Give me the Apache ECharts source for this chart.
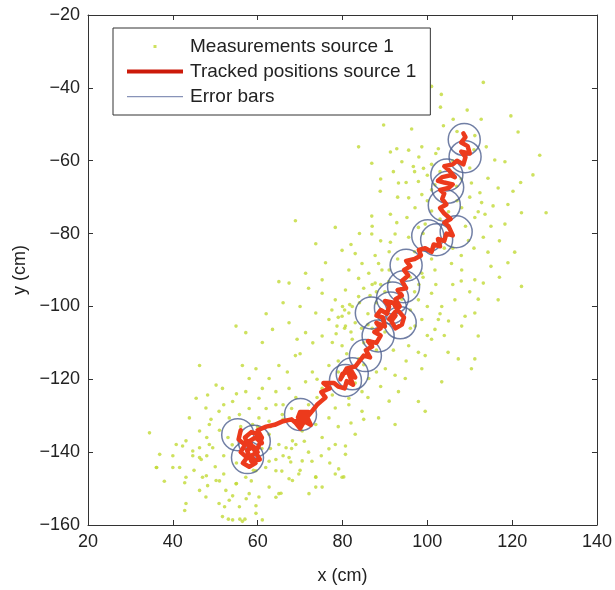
<!DOCTYPE html>
<html>
<head>
<meta charset="utf-8">
<script src="https://cdn.jsdelivr.net/npm/echarts@6/dist/echarts.min.js"></script>
<style>
  html, body { margin: 0; padding: 0; background: #fff; }
  #chart { width: 615px; height: 590px; }
</style>
</head>
<body>
<div id="chart"></div>
<script>
var measurements = [
  [113.2,-38.5],[103.3,-41.8],[101.0,-39.6],[103.1,-45.3],[109.4,-46.1],[119.7,-47.7],[106.1,-48.6],[112.7,-48.6],
  [121.4,-52.1],[96.3,-51.3],[103.8,-50.4],[89.7,-50.2],
  [83.8,-56.2],[91.3,-57.6],[92.8,-56.7],[95.6,-57.1],[98.7,-56.2],[102.6,-56.7],[111.2,-53.1],[113.9,-56.2],
  [115.9,-59.8],[118.3,-60.3],[126.5,-58.5],[124.9,-63.9],[86.9,-60.7],[94.0,-60.3],[96.7,-61.6],[99.1,-62.1],
  [97.9,-65.7],[101.8,-66.6],[88.9,-68.4],[93.2,-66.1],[98.7,-69.3],[106.9,-67.0],[110.4,-66.1],[114.3,-64.8],
  [116.7,-67.5],[120.2,-68.4],[112.4,-68.8],[95.6,-70.2],
  [78.3,-78.3],[68.9,-76.5],[86.9,-75.2],[91.3,-74.7],[92.8,-77.0],[95.2,-75.6],[97.1,-72.9],[101.0,-73.8],
  [99.5,-77.4],[108.1,-72.9],[112.8,-71.5],[115.5,-72.4],[111.2,-75.6],[113.6,-74.7],[118.3,-77.4],[122.2,-74.3],
  [128.0,-74.3],[86.9,-80.1],[92.4,-80.1],[95.6,-81.0],[97.9,-78.3],[109.7,-81.9],[113.2,-81.0],[114.3,-85.1],
  [120.6,-85.1],[73.7,-82.8],[79.9,-84.6],[83.0,-85.5],[87.7,-86.0],[91.3,-82.4],[88.5,-88.2],
  [65.0,-93.2],[67.4,-93.6],[71.3,-90.9],[75.2,-92.7],[81.5,-90.0],[84.6,-88.2],[83.8,-92.3],[86.2,-90.9],
  [89.3,-90.0],[87.7,-93.6],[90.9,-93.2],[98.7,-90.9],[101.8,-90.0],[105.7,-88.2],[108.1,-90.0],[111.2,-92.7],
  [113.2,-93.6],[122.2,-94.5],[116.7,-98.2],[78.3,-98.2],[80.7,-95.5],[82.3,-100.0],[75.2,-96.4],[73.7,-101.8],
  [67.4,-104.5],[63.5,-106.3],[76.8,-103.6],[79.9,-102.7],[81.5,-101.8],[83.0,-104.5],[80.7,-105.4],[78.7,-105.4],
  [83.8,-97.3],[97.9,-98.2],[101.0,-96.4],[103.4,-100.0],[106.5,-98.2],[108.9,-102.7],[111.2,-101.8],[102.6,-103.6],
  [98.7,-103.6],[97.1,-105.4],[101.8,-106.3],[108.1,-105.4],[112.0,-108.1],[54.9,-105.4],[57.2,-107.2],[61.1,-109.9],
  [69.3,-109.0],[71.3,-107.2],[75.2,-108.1],[77.6,-109.9],[79.9,-110.8],[82.3,-109.0],[68.9,-113.5],[65.0,-116.2],
  [62.7,-119.8],[59.6,-117.1],[56.4,-116.2],[46.3,-116.2],[72.9,-118.0],[76.8,-116.2],[83.8,-114.4],[95.6,-110.8],
  [97.9,-112.6],[99.5,-113.5],[101.0,-109.0],[104.9,-112.6],[107.3,-114.4],[111.2,-114.4],[110.4,-117.1],[98.7,-117.1],
  [94.8,-119.8],[92.4,-118.9],[90.1,-117.1],[86.2,-119.8],[84.6,-123.4],[81.5,-125.2],[77.6,-124.3],[75.2,-122.5],
  [71.3,-120.7],[67.4,-122.5],[64.3,-123.4],[61.1,-122.5],[58.0,-119.8],[50.2,-121.6],[51.7,-122.5],[48.2,-124.3],
  [45.5,-125.2],[103.4,-120.7],[93.2,-123.4],
  [43.9,-130.6],[47.8,-127.9],[50.9,-128.8],[54.1,-126.1],[57.2,-123.4],[60.3,-125.2],[64.3,-127.0],[65.8,-129.7],
  [62.7,-131.5],[60.3,-130.6],[58.8,-132.4],[55.7,-129.7],[53.3,-130.6],[48.6,-132.4],[46.3,-134.2],[43.1,-136.9],
  [40.8,-137.9],[34.5,-134.7],[36.9,-140.6],[40.0,-144.2],[46.3,-141.5],[44.7,-139.7],[48.6,-137.9],[62.7,-135.1],
  [65.0,-137.9],[68.2,-136.9],[70.5,-134.2],[73.7,-132.4],[76.8,-130.6],[78.3,-127.9],[81.5,-127.0],[75.2,-136.0],
  [78.3,-137.9],[80.7,-140.6],[83.0,-135.1],[84.6,-128.8],[88.5,-130.6],[92.4,-132.4],[97.9,-126.1],[99.5,-128.8],
  [67.4,-141.5],[70.5,-142.4],[64.3,-145.1],[73.7,-146.9],[78.3,-146.0],[79.9,-146.9],
  [36.1,-144.2],[43.1,-146.9],[47.0,-146.9],[50.2,-147.8],[52.5,-150.5],[54.9,-148.7],[57.2,-146.9],[59.6,-145.1],
  [61.9,-144.2],[47.8,-152.3],[50.9,-154.1],[53.3,-153.2],[55.7,-155.0],[58.0,-151.4],[60.3,-152.3],[62.7,-149.6],
  [65.0,-151.4],[68.2,-147.8],[43.1,-154.1],[51.7,-157.7],[54.1,-158.6],[56.4,-159.0],[59.6,-156.8],[61.1,-158.6],
  [72.1,-151.4],[75.2,-149.6],[46.3,-150.5],
  [36.2,-144.2],[41.6,-144.2],[42.8,-148.4],[48.2,-149.2],[47.9,-146.5],[51.0,-147.9],[55.0,-148.6],[58.5,-147.9],
  [54.1,-152.0],[57.3,-152.8],[52.2,-155.0],[59.6,-154.7],[42.8,-156.0],[64.3,-152.4],[65.5,-151.3],[67.4,-147.3],
  [69.7,-146.0],[73.7,-146.8],[73.7,-149.6],[79.1,-144.6],[80.3,-146.8],[65.7,-145.2],[67.8,-142.7],[72.8,-142.5],
  [76.8,-139.1],[80.7,-138.3],[42.3,-138.3],[46.3,-138.8],[44.7,-141.0],[46.7,-142.0],[49.4,-138.8],[53.1,-158.4],
  [55.8,-158.4],[57.0,-158.4],[62.7,-142.5],[64.3,-142.0],[66.7,-138.8],[69.0,-137.9],
  [107,-52],[111,-57],[106,-60],[103,-63],[108,-65],[101,-68],[107,-71],[103,-76],[109,-78],[99,-80],
  [104,-84],[97,-85],[101,-87],[93,-87],[96,-92],[90,-96],[94,-98],[88,-99],[92,-103],[96,-101],
  [86,-105],[90,-107],[85,-110],[88,-112],[81,-113],[85,-116],[79,-118],[83,-121],[77,-121],[74,-125],
  [72,-127],[68,-128],[71,-132],[66,-131],[63,-133],[60,-133],[56,-133],[54,-138],[61,-139],[55,-143],
  [59,-145],[52,-141],[57,-137],[79,-115],[87,-94],[98,-94],[105,-74],[110,-62],[100,-71],[91,-90],
  [79,-103],[80.5,-101],[81.7,-99.5],[80.5,-106],[78.5,-107.5],[82,-107],[77.5,-101],[80,-100],
  [85,-95],[86.5,-97],[84,-99],[88,-96],[89,-94],[86,-102],[84.5,-106],[87,-106],
  [97,-96],[99,-92],[102,-94],[100,-100],[103,-102],[105,-104],[100,-108],[104,-108],
  [108,-93],[110,-96],[106,-94],[112,-98],[115,-89],[117,-92],[119,-88],
  [93,-70],[95,-66],[97,-63],[92,-63],[89,-65],[98,-59],[101,-61],[100,-64],[102,-58],
  [110,-70],[112,-74],[115,-78],[117,-82],[111,-84],[108,-86],[106,-84],[119,-72],[122,-66],
  [87,-78],[89,-82],[84,-80],[82,-83],[91,-85],[76,-88],[72,-95],[70,-100],[66,-99],[62,-102],
  [73,-110],[70,-113],[67,-118],[74,-120],[69,-125],[66,-127],[62,-128],[58,-128],[55,-124],[52,-127],
  [49,-131],[51,-134],[48,-136],[53,-136],[50,-144],[48,-141],[52,-146],[45,-145],[40,-141],[38,-148],
  [63,-139],[66,-141],[68,-139],[71,-137],[72,-140],[75,-141],[77,-143],[70,-145],[86,-125],[89,-122],
  [95,-115],[92,-112],[96,-106],[88,-118],[91,-126],[85,-131],[82,-132],[79,-133]
];

// tracked positions, bottom-left start to top-right end
var tracked = [
  [56,-134],[55.5,-136.5],[57,-138],[56,-140],[57.5,-141.5],[56.5,-143],[58,-144],[59.5,-143],[58.5,-141],[60,-140],
  [59,-138.5],[57.5,-139.5],[58.5,-142.5],[60.5,-142],[59.5,-140],[58,-137],[59.5,-136],[61,-137.5],[60,-135],[58.5,-134.5],
  [57,-136],[58,-138.5],[60,-139],[61,-136],[60,-134],
  [62,-133],[64,-132.5],[66,-131.5],[68,-131],
  [69,-132],[70,-133.5],[71,-131.5],[72.5,-132.5],[71.5,-130],[69.5,-130.5],[70,-129],[72,-129],[71,-131],[69,-131.5],[70.5,-132],
  [73,-128.5],[74,-127],[75,-126],[76,-125],[75,-123.5],[77,-122.5],[75.5,-121],[78,-121],
  [79,-122],[80.5,-122.5],[81,-120.5],[82.5,-121.5],[81.5,-118.5],[83,-119.5],[82,-117.5],[80,-118.5],[79.5,-120],[81,-117],[83,-116.5],
  [84,-115],[85,-113.5],[86.5,-114],[85.5,-112],[87,-111],[86,-109.5],[88,-110],[89,-108],[87.5,-107],[89,-106],
  [88,-104.5],[90,-105.5],[89.5,-103],[88,-102.5],[89,-101],[90.5,-102],[91,-100],[90,-98.5],[92,-99],[93,-101],
  [94.5,-103],[94,-105],[92.5,-106],[91.5,-104],[92.5,-102.5],[91,-103.5],[93.5,-100],[92.5,-98],[94,-97],[93,-95.5],
  [95,-95],[94,-93],[95.5,-91.5],[94.5,-90],[96,-89],[95,-87.5],[97,-87],[98.5,-86],[98,-84.5],[99.5,-84],
  [101,-85],[101.5,-83],[103,-83.5],[102.5,-81.5],[104,-82],[104.5,-80],[106,-80.5],[105,-78],[104,-77],[105.5,-76],
  [104,-74.5],[103,-73],[104.5,-72],[103.5,-70.5],[104,-69],[103,-68],[105,-67.5],[106,-66.5],[104,-66],[102.5,-65.5],
  [103.5,-64.5],[105.5,-64],[106.5,-64.5],[105,-62.5],[104,-61.5],[106,-61],[107,-60],[108.5,-61],[109,-59],[108,-57.5],
  [110,-58],[109.5,-56],[108,-55],[109,-53.5],[108.5,-52.5]
];

// error circle centres
var errorCentres = [
  [108.7,-54.2],[108.9,-58.9],[104.6,-63.9],[104.8,-67.3],[104.0,-72.2],[100.1,-80.6],[102.2,-81.7],[106.8,-79.5],
  [95.0,-88.7],[94.4,-94.6],[91.8,-97.7],[86.8,-101.8],[91.3,-100.4],[93.6,-104.5],[88.4,-108.1],[85.4,-113.5],
  [82.3,-118.5],[80.7,-120.3],[70.1,-129.7],[55.3,-135.2],[59.2,-137.0],[57.6,-141.5]
];

var xTicks = [20, 40, 60, 80, 100, 120, 140];
var yTicks = [-160, -140, -120, -100, -80, -60, -40, -20];

var dotColor = '#c2d936';
var trackColor = '#ec3a1c';
var circleColor = '#4d5f8e';
var fontFam = '"Liberation Sans", Arial, sans-serif';

var chart = echarts.init(document.getElementById('chart'));

function minus(v) { return String(v).replace('-', '\u2212'); }

var boxAxis = {
  axisLine: { show: true, lineStyle: { color: '#333', width: 1 } },
  axisTick: { show: true, inside: true, length: 5, lineStyle: { color: '#333' } },
  splitLine: { show: false }
};

var option = {
  animation: false,
  backgroundColor: '#fff',
  grid: { left: 88, right: 16, top: 15, bottom: 59 },
  xAxis: [
    Object.assign({
      type: 'value', min: xTicks[0], max: xTicks[xTicks.length - 1], interval: 20,
      name: 'x (cm)', nameLocation: 'middle', nameGap: 42,
      nameTextStyle: { fontSize: 18, color: '#222', fontFamily: fontFam },
      axisLabel: { fontSize: 18, color: '#222', fontFamily: fontFam, margin: 8 }
    }, boxAxis),
    Object.assign({
      type: 'value', position: 'top', min: xTicks[0], max: xTicks[xTicks.length - 1], interval: 20,
      axisLabel: { show: false }
    }, boxAxis)
  ],
  yAxis: [
    Object.assign({
      type: 'value', min: yTicks[0], max: yTicks[yTicks.length - 1], interval: 20,
      name: 'y (cm)', nameLocation: 'middle', nameGap: 56, nameRotate: 90,
      nameTextStyle: { fontSize: 18, color: '#222', fontFamily: fontFam },
      axisLabel: { fontSize: 18, color: '#222', fontFamily: fontFam, margin: 8, formatter: minus }
    }, boxAxis),
    Object.assign({
      type: 'value', position: 'right', min: yTicks[0], max: yTicks[yTicks.length - 1], interval: 20,
      axisLabel: { show: false }
    }, boxAxis)
  ],
  legend: {
    orient: 'vertical',
    left: 113, top: 28,
    padding: [9, 14, 9, 12],
    itemGap: 6,
    itemWidth: 60, itemHeight: 10,
    backgroundColor: '#fff',
    borderColor: '#333', borderWidth: 1,
    textStyle: { fontSize: 19, color: '#222', fontFamily: fontFam },
    data: [
      { name: 'Measurements source 1', icon: 'path://M0,0M60,10M28.5,3.5h3v3h-3z', itemStyle: { color: dotColor, borderWidth: 0 } },
      { name: 'Tracked positions source 1', icon: 'path://M0,0M60,10M2,3h56v4h-56z', itemStyle: { color: '#cc1a0a', borderWidth: 0 } },
      { name: 'Error bars', icon: 'path://M0,0M60,10M2,4.5h56v1.2h-56z', itemStyle: { color: '#6a78a6', borderWidth: 0 } }
    ]
  },
  series: [
    {
      name: 'Measurements source 1',
      type: 'scatter',
      data: measurements,
      symbol: 'circle',
      symbolSize: 3.6,
      itemStyle: { color: dotColor },
      silent: true
    },
    {
      name: 'Tracked positions source 1',
      type: 'line',
      data: tracked,
      showSymbol: false,
      symbol: 'none',
      lineStyle: { color: trackColor, width: 4.5, join: 'round', cap: 'round' },
      itemStyle: { color: trackColor },
      silent: true
    },
    {
      name: 'Error bars',
      type: 'scatter',
      data: errorCentres,
      symbol: 'circle',
      symbolSize: 32,
      itemStyle: { color: 'rgba(0,0,0,0)', borderColor: circleColor, borderWidth: 1.5 },
      silent: true
    }
  ]
};

chart.setOption(option);
</script>
</body>
</html>
